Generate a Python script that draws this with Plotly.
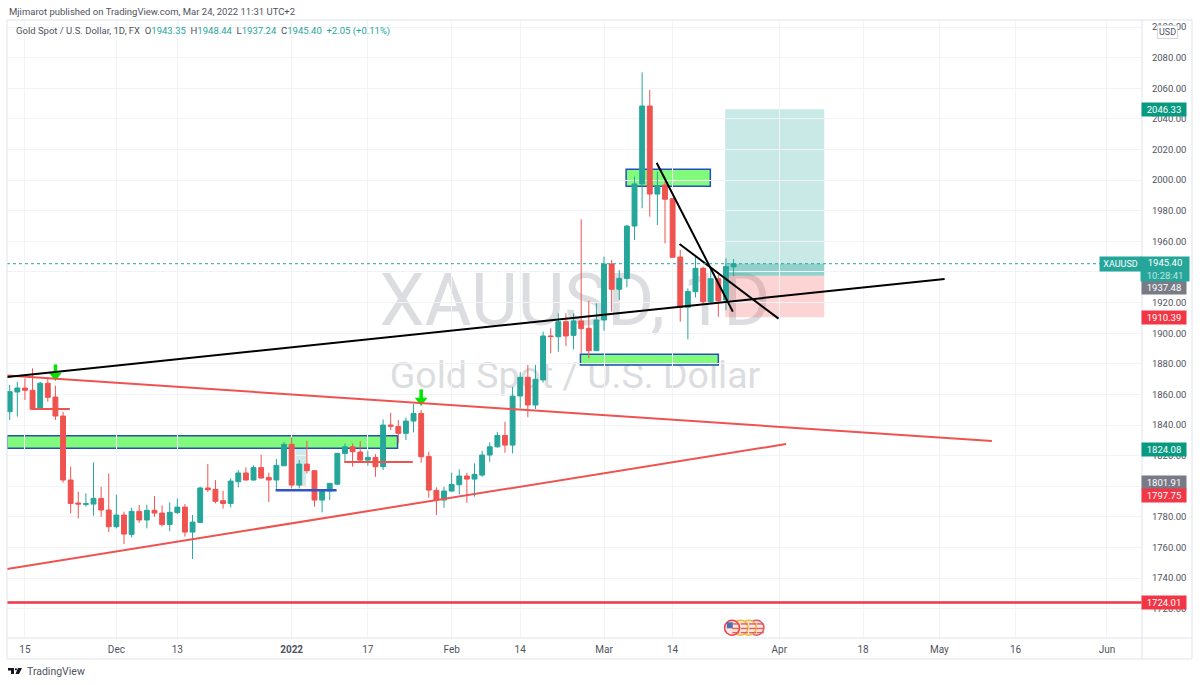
import plotly.graph_objects as go

# ---------- data ----------
opens = [1848.7,1861.6,1864.2,1862.7,1850.3,1867.3,1858.3,1845.9,1804.1,1789.1,1788.2,1788.4,1792.1,1784.5,1773.6,1781.2,1768.6,1783.6,1778.0,1784.3,1782.5,1775.1,1782.8,1786.4,1770.1,1776.4,1798.9,1798.0,1790.6,1788.8,1803.0,1808.7,1804.1,1812.2,1805.8,1804.1,
1813.4,1827.4,1800.8,1814.5,1810.2,1791.0,1796.9,1801.4,1821.5,1825.8,1822.4,1817.1,1818.9,1812.8,1840.0,1839.1,1834.6,1842.6,1847.6,1819.5,1797.3,1791.0,1796.9,1801.0,1806.7,1804.7,1807.3,1820.4,1825.8,1833.2,1826.9,
1859.0,1871.2,1853.1,1869.5,1898.2,1897.7,1907.5,1898.6,1908.0,1903.2,1888.6,1908.6,1945.2,1928.7,1935.8,1970.0,1997.5,2048.4,1990.9,1996.8,1987.9,1949.8,1916.9,1927.1,1942.4,1920.6,1935.6,1921.7,1943.35]
highs = [1866.2,1868.3,1870.5,1877.1,1868.3,1870.5,1865.7,1848.7,1812.8,1796.5,1795.4,1815.6,1799.7,1808.4,1794.5,1783.4,1786.0,1787.8,1788.0,1793.6,1787.5,1789.5,1791.9,1788.4,1781.2,1799.7,1814.5,1804.1,1797.1,1805.2,1810.6,1812.4,1813.7,1820.6,1808.9,1817.8,
1829.1,1831.9,1817.1,1829.8,1810.2,1797.5,1802.3,1821.9,1828.0,1828.0,1829.5,1823.2,1821.0,1843.7,1848.1,1843.3,1845.0,1853.7,1849.8,1822.6,1799.3,1799.7,1808.9,1811.0,1808.9,1815.0,1823.2,1828.7,1835.6,1842.2,1865.0,
1874.5,1879.3,1879.3,1901.0,1903.2,1913.0,1913.0,1913.0,1974.4,1921.2,1919.5,1950.0,1947.8,1941.3,1970.7,2002.3,2070.4,2058.9,2005.5,1999.0,1987.9,1954.4,1929.3,1950.0,1943.5,1942.4,1938.0,1948.9,1948.44]
lows = [1843.3,1845.5,1856.4,1849.8,1849.8,1855.3,1843.3,1802.4,1782.3,1779.0,1786.7,1780.8,1780.1,1770.1,1772.5,1762.3,1766.6,1776.2,1772.5,1780.1,1773.6,1770.6,1781.9,1767.1,1752.5,1775.8,1796.3,1788.8,1785.4,1786.2,1799.3,1803.7,1803.7,1805.0,1789.7,1797.6,
1813.2,1798.6,1798.6,1808.4,1786.6,1782.9,1791.0,1800.8,1816.0,1812.8,1815.4,1813.4,1806.2,1810.6,1836.7,1828.0,1830.2,1835.2,1815.4,1792.5,1781.2,1786.0,1796.4,1794.7,1789.2,1793.2,1806.2,1816.0,1825.2,1821.9,1821.5,
1851.0,1845.1,1850.5,1867.7,1886.9,1887.9,1891.6,1889.4,1886.8,1883.6,1888.6,1901.6,1914.1,1921.7,1930.0,1960.9,1981.6,1976.1,1970.7,1958.7,1949.6,1907.5,1896.0,1923.4,1918.4,1919.5,1910.8,1915.1,1937.24]
closes = [1861.8,1864.2,1862.7,1850.3,1867.3,1858.1,1845.9,1804.1,1788.8,1788.4,1788.6,1792.1,1784.5,1773.6,1781.2,1768.8,1783.6,1778.0,1784.3,1782.5,1775.1,1783.0,1786.4,1770.1,1776.6,1798.9,1797.8,1790.2,1788.8,1803.4,1808.7,1804.1,1812.2,1805.4,1804.1,1813.7,
1827.4,1800.8,1814.5,1810.2,1791.0,1796.9,1801.9,1821.5,1825.8,1822.6,1817.1,1818.9,1812.8,1840.0,1839.3,1834.6,1842.6,1847.6,1819.3,1797.5,1791.0,1796.9,1801.2,1806.7,1804.7,1807.8,1820.4,1825.8,1833.2,1826.9,1858.9,
1871.2,1853.1,1869.9,1898.2,1897.8,1907.5,1898.2,1908.0,1903.0,1888.6,1908.6,1945.2,1928.7,1935.8,1970.0,1997.5,2048.4,1990.9,1996.2,1987.5,1949.6,1916.9,1927.3,1942.4,1920.6,1935.6,1921.2,1943.5,1945.40]
bar_index = list(range(len(opens)))

x_tick_index = [2, 14, 22, 37, 47, 58, 67, 78, 87, 101, 112, 122, 132, 144]
x_tick_text = ["15", "Dec", "13", "<b>2022</b>", "17", "Feb", "14", "Mar", "14", "Apr", "18", "May", "16", "Jun"]
y_ticks = [1720, 1740, 1760, 1780, 1800, 1820, 1840, 1860, 1880, 1900, 1920, 1940, 1960, 1980, 2000, 2020, 2040, 2060, 2080, 2100]

# (i0, p0, i1, p1) drawings, in bar index and price
black_lines = [(-0.35, 1871.4, 122.7, 1935.4), (84.9, 2011.4, 94.9, 1914.1), (87.9, 1958.3, 100.9, 1909.5)]
red_lines = [(-0.35, 1872.4, 128.9, 1829.6), (-0.35, 1746.0, 101.9, 1827.6),
             (2.9, 1850.5, 7.9, 1850.5), (43.9, 1815.9, 52.9, 1815.9)]
blue_lines = [(34.9, 1797.4, 42.9, 1797.4)]
green_zones = [(-0.35, 1833.0, 50.9, 1824.8), (80.9, 2007.1, 91.95, 1996.0), (74.9, 1886.2, 93.0, 1879.2)]
support_level = 1724.01
position_i = (93.9, 106.9)
position_target, position_now, position_entry, position_stop = 2046.33, 1945.40, 1937.48, 1910.39
small_position = (37.5, 38.9, 1824.8, 1802.0, 1799.5)
arrow_index = [6, 54]
arrow_head_price = [1872.4, 1856.1]
arrow_stem_price = [1875.5, 1859.2]
event_index = [94.8, 95.9, 97.0, 98.0]
event_price = [1707.6, 1707.6, 1707.6, 1707.6]

# (text, price shown at, colour)
price_tags = [("2046.33", 2046.33, "#089981"), ("1937.48", 1930.0, "#787b86"), ("1910.39", 1910.39, "#f23645"),
              ("1824.08", 1824.08, "#089981"), ("1801.91", 1802.3, "#787b86"), ("1797.75", 1793.7, "#f23645"),
              ("1724.01", 1724.01, "#f23645")]

# ---------- layout helpers (page chrome only) ----------
L, R, T, B = 7, 1142, 20, 638
def px(x): return (x - L) / (R - L)
def py(y): return (B - y) / (B - T)

UP, DOWN = "#26a69a", "#ef5350"
FONT = "Roboto"
TXT = "#50535e"
shapes = []

# watermarks sit below the candles as shape labels
shapes.append(dict(type="rect", xref="paper", yref="paper", x0=px(340), x1=px(810), y0=py(328), y1=py(262),
                   line=dict(width=0), fillcolor="rgba(0,0,0,0)", layer="below",
                   label=dict(text="XAUUSD, 1D", font=dict(family=FONT, size=72, color="#dcdde0"),
                              textposition="middle center")))
shapes.append(dict(type="rect", xref="paper", yref="paper", x0=px(340), x1=px(810), y0=py(392), y1=py(352),
                   line=dict(width=0), fillcolor="rgba(0,0,0,0)", layer="below",
                   label=dict(text="Gold Spot / U.S. Dollar", font=dict(family=FONT, size=37.5, color="#dcdde0"),
                              textposition="middle center")))

for a, b, c, d in green_zones:
    shapes.append(dict(type="rect", x0=a, x1=c, y0=b, y1=d, fillcolor="#82fb7d",
                       line=dict(color="#2450b8", width=1.5), layer="below"))

i0, i1 = position_i
shapes.append(dict(type="rect", x0=i0, x1=i1, y0=position_now, y1=position_target,
                   fillcolor="rgba(38,166,154,0.25)", line=dict(width=0), layer="below"))
shapes.append(dict(type="rect", x0=i0, x1=i1, y0=position_entry, y1=position_now,
                   fillcolor="rgba(38,166,154,0.5)", line=dict(width=0), layer="below"))
shapes.append(dict(type="rect", x0=i0, x1=i1, y0=position_stop, y1=position_entry,
                   fillcolor="rgba(239,83,80,0.25)", line=dict(width=0), layer="below"))
a, b, top, mid, low = small_position
shapes.append(dict(type="rect", x0=a, x1=b, y0=mid, y1=top, fillcolor="rgba(38,166,154,0.22)",
                   line=dict(width=0), layer="below"))
shapes.append(dict(type="rect", x0=a, x1=b, y0=low, y1=mid, fillcolor="rgba(239,83,80,0.22)",
                   line=dict(width=0), layer="below"))

for a, b, c, d in red_lines:
    shapes.append(dict(type="line", x0=a, y0=b, x1=c, y1=d, line=dict(color="#ef5350", width=2)))
for a, b, c, d in blue_lines:
    shapes.append(dict(type="line", x0=a, y0=b, x1=c, y1=d, line=dict(color="#2f55c8", width=2.5)))
for a, b, c, d in black_lines:
    shapes.append(dict(type="line", x0=a, y0=b, x1=c, y1=d, line=dict(color="#000000", width=2)))

shapes.append(dict(type="line", xref="paper", x0=0, x1=1, y0=support_level, y1=support_level,
                   line=dict(color="#f23645", width=2.5)))
shapes.append(dict(type="line", xref="paper", x0=0, x1=1, y0=position_now, y1=position_now,
                   line=dict(color="#26a69a", width=1, dash="dot")))

# page frame and axis dividers
FRAME = "#e0e3eb"
shapes.append(dict(type="rect", xref="paper", yref="paper", x0=0, x1=px(1192), y0=py(659), y1=py(20),
                   line=dict(color=FRAME, width=1), fillcolor="rgba(0,0,0,0)"))
shapes.append(dict(type="line", xref="paper", yref="paper", x0=1, x1=1, y0=py(659), y1=py(20),
                   line=dict(color=FRAME, width=1)))
shapes.append(dict(type="line", xref="paper", yref="paper", x0=0, x1=px(1192), y0=py(638), y1=py(638),
                   line=dict(color=FRAME, width=1)))

# TradingView logo
def pts(*p): return "M" + " L".join(f"{px(x):.5f},{py(y):.5f}" for x, y in p) + " Z"
logo = pts((8, 668), (14, 668), (14, 674), (11, 674), (11, 670.5), (8, 670.5)) + " " + \
       pts((18, 668), (22, 668), (19, 674), (15.5, 674))
shapes.append(dict(type="path", xref="paper", yref="paper", path=logo, fillcolor="#131722", line=dict(width=0)))
shapes.append(dict(type="circle", xref="paper", yref="paper", x0=px(14.8), x1=px(17), y0=py(670.4), y1=py(668.2),
                   fillcolor="#131722", line=dict(width=0)))

anns = []
anns.append(dict(xref="paper", yref="paper", x=px(7), y=py(11), xanchor="left", yanchor="middle", showarrow=False,
                 text="Mjimarot published on TradingView.com, Mar 24, 2022 11:31 UTC+2",
                 font=dict(family=FONT, size=9.5, color=TXT)))
tc = f'<span style="color:{UP}">'
anns.append(dict(xref="paper", yref="paper", x=px(14), y=py(31), xanchor="left", yanchor="middle", showarrow=False,
                 text=f"Gold Spot / U.S. Dollar, 1D, FX  O{tc}1943.35</span>  H{tc}1948.44</span>  L{tc}1937.24</span>  "
                      f"C{tc}1945.40</span>  {tc}+2.05 (+0.11%)</span>",
                 font=dict(family=FONT, size=9.5, color=TXT)))
anns.append(dict(xref="paper", yref="paper", x=px(25), y=py(672), xanchor="left", yanchor="middle", showarrow=False,
                 text="TradingView", font=dict(family=FONT, size=10.5, color=TXT)))
anns.append(dict(xref="paper", yref="paper", x=px(1167.5), y=py(32.5), xanchor="center", yanchor="middle", showarrow=False,
                 text="USD", font=dict(family=FONT, size=9, color=TXT), bgcolor="#ffffff",
                 bordercolor="#d6d8de", borderwidth=1, borderpad=1))

for text, where, colour in price_tags:
    anns.append(dict(xref="paper", x=px(1163.5), y=where, yanchor="middle", xanchor="center", showarrow=False,
                     text=text, width=43, height=12, align="center", bgcolor=colour, borderpad=0.5,
                     font=dict(family=FONT, size=9.5, color="#ffffff")))
# current price tag with countdown
anns.append(dict(xref="paper", x=px(1165), y=position_now - 3.6, yanchor="middle", xanchor="center", showarrow=False,
                 text="1945.40<br><span style='color:#bfe6e1'>10:28:41</span>", width=46, height=22, align="center",
                 bgcolor="#26a69a", font=dict(family=FONT, size=9.5, color="#ffffff")))
anns.append(dict(xref="paper", x=px(1120), y=position_now, yanchor="middle", xanchor="center", showarrow=False,
                 text="XAUUSD", width=39, height=12, align="center", bgcolor="#26a69a",
                 font=dict(family=FONT, size=9, color="#ffffff")))

fig = go.Figure()
fig.add_trace(go.Candlestick(x=bar_index, open=opens, high=highs, low=lows, close=closes,
                             increasing=dict(line=dict(color=UP, width=1), fillcolor=UP),
                             decreasing=dict(line=dict(color=DOWN, width=1), fillcolor=DOWN),
                             whiskerwidth=0, hoverinfo="skip", showlegend=False))
# green arrows: stem and head
fig.add_trace(go.Scatter(x=arrow_index, y=arrow_stem_price, mode="markers", hoverinfo="skip", showlegend=False,
                         marker=dict(symbol="line-ns", size=9, line=dict(width=3.5, color="#00e600"))))
fig.add_trace(go.Scatter(x=arrow_index, y=arrow_head_price, mode="markers", hoverinfo="skip", showlegend=False,
                         marker=dict(symbol="triangle-down", size=11, color="#00e600")))
# event badges
fig.add_trace(go.Scatter(x=event_index[::-1], y=event_price, mode="markers", hoverinfo="skip", showlegend=False,
                         marker=dict(size=15, color="#f8e6e0",
                                     line=dict(width=1.5, color=["#e2566a", "#f0b93a", "#f0b93a", "#ef3f3f"]))))
fig.add_trace(go.Scatter(x=[e + 0.5 for e in event_index] * 3,
                         y=[event_price[0] + o for o in (-3.2,) * 4 + (-0.5,) * 4 + (2.5,) * 4],
                         mode="markers", hoverinfo="skip", showlegend=False,
                         marker=dict(symbol="line-ew", size=5, line=dict(width=1.4, color="#e0605a"))))
fig.add_trace(go.Scatter(x=[event_index[0] - 0.3], y=[event_price[0] + 1.6], mode="markers", hoverinfo="skip",
                         showlegend=False, marker=dict(size=6, color="#4f6fb5", symbol="square")))

fig.update_layout(
    width=1200, height=685, margin=dict(l=L, r=1200 - R, t=T, b=685 - B),
    paper_bgcolor="#ffffff", plot_bgcolor="#ffffff", showlegend=False, hovermode=False,
    boxgap=0.2, boxgroupgap=0.2,
    font=dict(family=FONT, size=9.5, color=TXT),
    shapes=shapes, annotations=anns,
    xaxis=dict(range=[-0.354, 148.6], rangeslider=dict(visible=False), tickmode="array", tickvals=x_tick_index,
               ticktext=x_tick_text, showgrid=True, gridcolor="#f1f3f8", gridwidth=1, zeroline=False, ticks="outside",
               ticklen=2, tickcolor="rgba(0,0,0,0)", showline=False, tickfont=dict(family=FONT, size=10, color=TXT)),
    yaxis=dict(range=[1700.9, 2104.6], side="right", tickmode="array", tickvals=y_ticks,
               ticktext=[f"{v:.2f}" for v in y_ticks], showgrid=True, gridcolor="#f1f3f8", gridwidth=1, zeroline=False,
               ticks="outside", ticklen=7, tickcolor="rgba(0,0,0,0)", showline=False,
               tickfont=dict(family=FONT, size=9.5, color=TXT)),
)
fig.write_html("out.html", config=dict(displayModeBar=False),
               post_script="document.body.style.margin='0';document.body.style.overflow='hidden';")
